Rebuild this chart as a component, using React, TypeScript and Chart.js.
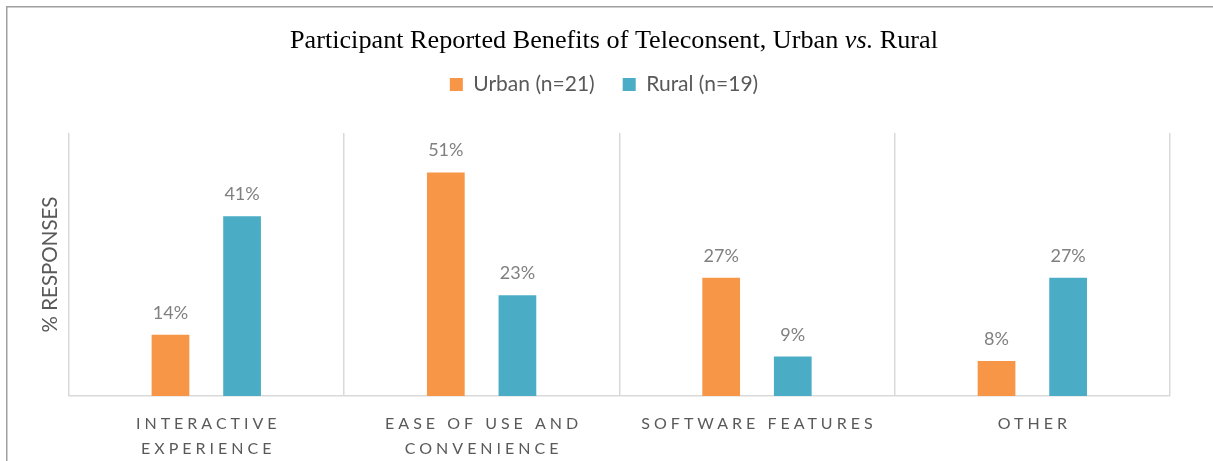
import React, { useEffect, useRef } from "react";
import { Chart, registerables } from "chart.js";

Chart.register(...registerables);

// ---- Data ----
const categories: string[][] = [
  ["INTERACTIVE", "EXPERIENCE"],
  ["EASE OF USE AND", "CONVENIENCE"],
  ["SOFTWARE FEATURES"],
  ["OTHER"],
];
const urbanValues = [14, 51, 27, 8];
const ruralValues = [41, 23, 9, 27];
const seriesNames = ["Urban (n=21)", "Rural (n=19)"];
const titleParts = [
  { text: "Participant Reported Benefits of Teleconsent, Urban ", italic: false },
  { text: "vs.", italic: true },
  { text: " Rural", italic: false },
];
const yAxisTitle = "% RESPONSES";
const yMin = 0;
const yMax = 60;

// ---- Styles ----
const ORANGE = "#F79646";
const BLUE = "#4BACC6";
const AXIS_TEXT = "#595959";
const LABEL_TEXT = "#808080";
const GRID = "#d9d9d9";
const SANS = "Lato, 'Open Sans', sans-serif";
const SERIF = "'Liberation Serif', 'DejaVu Serif', serif";

const framePlugin = {
  id: "frame",
  beforeDraw(chart: any) {
    const ctx = chart.ctx;
    ctx.save();
    ctx.fillStyle = "#ffffff";
    ctx.fillRect(0, 0, chart.width, chart.height);
    ctx.strokeStyle = "#a0a0a0";
    ctx.lineWidth = 1.5;
    ctx.beginPath();
    ctx.moveTo(6.75, chart.height);
    ctx.lineTo(6.75, 6.75);
    ctx.lineTo(chart.width, 6.75);
    ctx.stroke();
    ctx.restore();
  },
};

const titlePlugin = {
  id: "mixedTitle",
  afterDraw(chart: any) {
    const ctx = chart.ctx;
    ctx.save();
    const size = 25;
    const targetWidth = 648;
    const fontFor = (italic: boolean) => `${italic ? "italic " : ""}${size}px ${SERIF}`;
    let total = 0;
    const widths = titleParts.map((p) => {
      ctx.font = fontFor(p.italic);
      const w = ctx.measureText(p.text).width;
      total += w;
      return w;
    });
    const sx = targetWidth / total;
    ctx.translate(614 - targetWidth / 2, 48);
    ctx.scale(sx, 1);
    let x = 0;
    ctx.fillStyle = "#000000";
    ctx.textBaseline = "alphabetic";
    ctx.textAlign = "left";
    titleParts.forEach((p, i) => {
      ctx.font = fontFor(p.italic);
      ctx.fillText(p.text, x, 0);
      x += widths[i];
    });
    ctx.restore();
  },
};

const valueLabelPlugin = {
  id: "valueLabels",
  afterDatasetsDraw(chart: any) {
    const ctx = chart.ctx;
    ctx.save();
    ctx.font = `18px ${SANS}`;
    ctx.fillStyle = LABEL_TEXT;
    ctx.textAlign = "center";
    ctx.textBaseline = "alphabetic";
    chart.data.datasets.forEach((ds: any, di: number) => {
      const meta = chart.getDatasetMeta(di);
      meta.data.forEach((el: any, i: number) => {
        ctx.fillText(`${ds.data[i]}%`, el.x, el.y - 16);
      });
    });
    ctx.restore();
  },
};

const categoryLabelPlugin = {
  id: "categoryLabels",
  afterDraw(chart: any) {
    const ctx = chart.ctx;
    const xs = chart.scales.x;
    const spacing = 4;
    ctx.save();
    ctx.font = `16px ${SANS}`;
    (ctx as any).letterSpacing = `${spacing}px`;
    ctx.fillStyle = AXIS_TEXT;
    ctx.textAlign = "center";
    ctx.textBaseline = "alphabetic";
    (chart.data.labels as string[][]).forEach((lines, i) => {
      const x = xs.getPixelForValue(i) + spacing / 2;
      lines.forEach((line, j) => {
        ctx.fillText(line, x, chart.chartArea.bottom + 33 + j * 25);
      });
    });
    ctx.restore();
  },
};

export default function App() {
  const canvasRef = useRef<HTMLCanvasElement | null>(null);

  useEffect(() => {
    document.body.style.margin = "0";
    const canvas = canvasRef.current;
    if (!canvas) return;
    const chart = new Chart(canvas, {
      type: "bar",
      data: {
        labels: categories,
        datasets: [
          {
            label: seriesNames[0],
            data: urbanValues,
            backgroundColor: ORANGE,
            borderWidth: 0,
            categoryPercentage: 0.52,
            barPercentage: 0.527,
          },
          {
            label: seriesNames[1],
            data: ruralValues,
            backgroundColor: BLUE,
            borderWidth: 0,
            categoryPercentage: 0.52,
            barPercentage: 0.527,
          },
        ],
      },
      options: {
        animation: false,
        responsive: false,
        maintainAspectRatio: false,
        layout: { padding: { top: 46, left: 38, right: 43, bottom: 65 } },
        scales: {
          x: {
            offset: true,
            grid: { display: true, color: GRID, lineWidth: 1.5, offset: true, drawTicks: false },
            border: { display: true, color: GRID, width: 1.5 },
            ticks: { display: false },
          },
          y: {
            min: yMin,
            max: yMax,
            grid: { display: false, drawTicks: false },
            border: { display: false },
            ticks: { display: false },
            title: {
              display: true,
              text: yAxisTitle,
              color: AXIS_TEXT,
              font: { family: SANS, size: 20.5, lineHeight: 1.2 },
              padding: { top: 0, bottom: 6 },
            },
          },
        },
        plugins: {
          title: { display: false },
          subtitle: {
            display: true,
            text: "",
            weight: 500,
            position: "top",
            font: { size: 20, lineHeight: 1.2 },
            padding: { top: 0, bottom: 4 },
          },
          legend: {
            display: true,
            position: "top",
            labels: {
              boxWidth: 13,
              boxHeight: 13,
              padding: 28,
              color: AXIS_TEXT,
              font: { family: SANS, size: 21 },
            },
          },
          tooltip: { enabled: false },
        },
      },
      plugins: [framePlugin, titlePlugin, valueLabelPlugin, categoryLabelPlugin],
    } as any);
    return () => chart.destroy();
  }, []);

  return (
    <div style={{ width: 1213, height: 461 }}>
      <canvas ref={canvasRef} width={1213} height={461} style={{ display: "block" }} />
    </div>
  );
}
